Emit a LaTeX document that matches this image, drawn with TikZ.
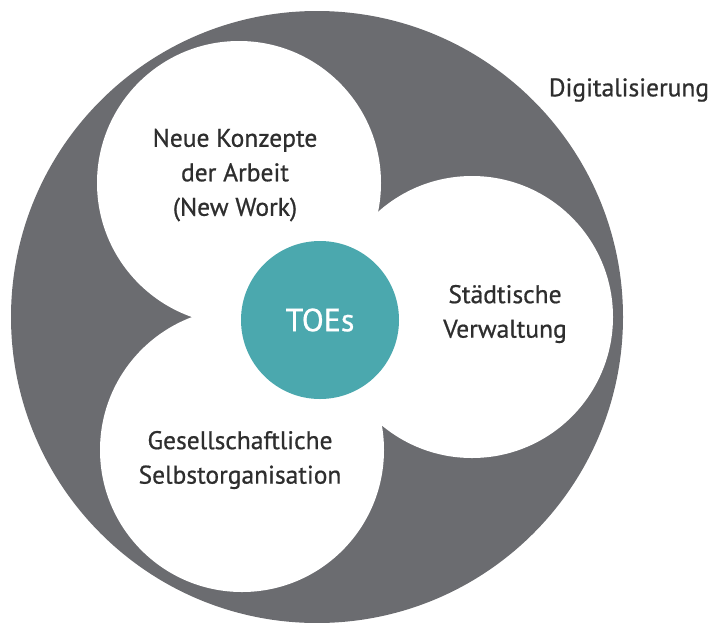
\documentclass[tikz,border=0pt]{standalone}
\usepackage{fontspec}
\setmainfont{PT Sans}
\newfontfamily\labelfont[FakeBold=0.7]{PT Sans}
\usepackage{tikz}

\definecolor{ringgrey}{HTML}{6B6C70}
\definecolor{toeteal}{HTML}{4BA8AE}
\definecolor{labeltext}{HTML}{2E2E2E}

\begin{document}
\begin{tikzpicture}[x=1pt, y=-1pt,
  label/.style={text=labeltext, align=center, font=\labelfont\fontsize{25.5}{34.5}\selectfont},
  petal/.style={fill=white}]
\useasboundingbox (0,0) rectangle (712,622);

\fill[ringgrey] (317,317) circle [radius=306pt];

\fill[petal] (239,183) circle [radius=142pt];
\fill[petal] (472,317) circle [radius=141pt];
\fill[petal] (242,450) circle [radius=142pt];

\node (toes) at (320,320) [circle, fill=toeteal, minimum size=158pt, inner sep=0pt,
  text=white, font=\labelfont\fontsize{32}{40}\selectfont] {TOEs};

\node (newwork) at (235,175) [label] {Neue Konzepte\\der Arbeit\\(New Work)};
\node (verwaltung) at (505,314) [label] {Städtische\\Verwaltung};
\node (selbstorg) at (240,460) [label] {Gesellschaftliche\\Selbstorganisation};
\node (digital) at (629,90) [label] {Digitalisierung};
\end{tikzpicture}
\end{document}
